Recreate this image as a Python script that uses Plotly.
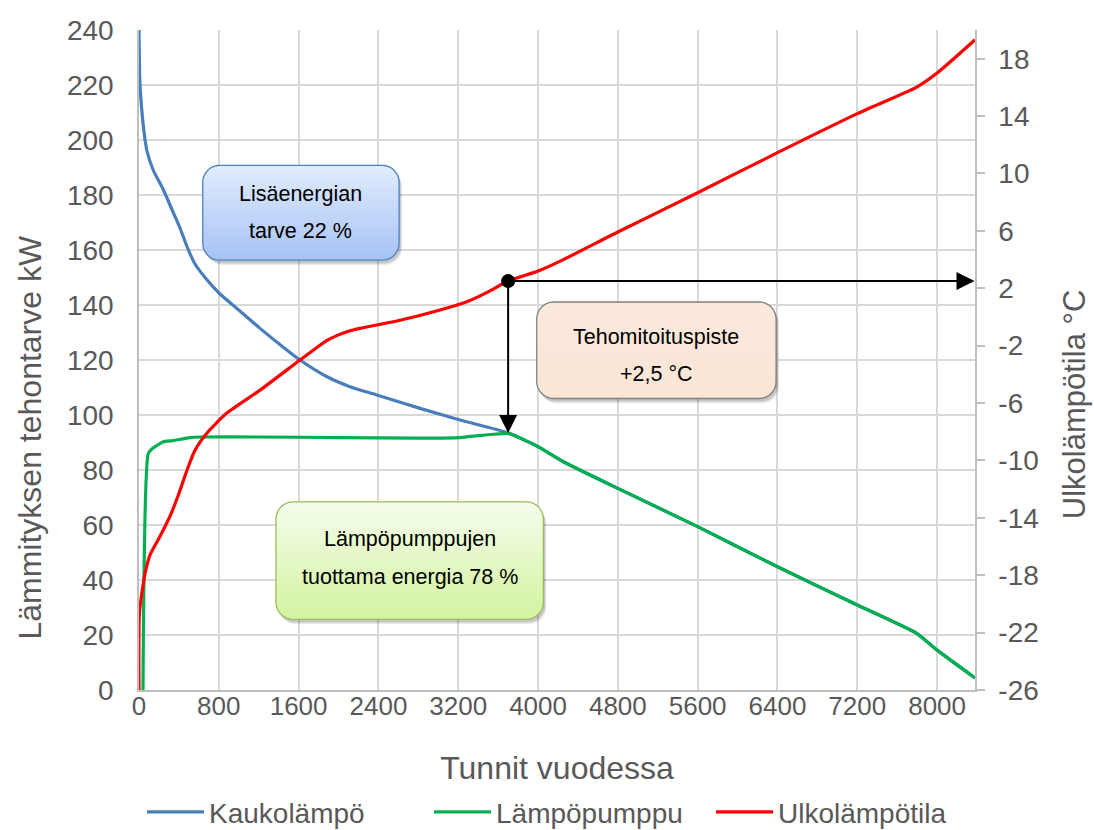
import math
import plotly.graph_objects as go

# --- Data -------------------------------------------------------------
# Hours of the year (duration curve) and corresponding values
hours_district = [0, 8, 25, 50, 80, 143, 243, 327, 411, 484, 560, 662, 812, 1000,
                  1213, 1400, 1614, 1880, 2115, 2383, 2817, 3218, 3700,
                  3887, 4000, 4254, 4800, 5600, 6400, 7200, 7795, 8000, 8380]
district_kw = [240, 222, 212, 203, 196, 189, 182, 175, 168, 161, 155, 150, 144.0, 138.2,
               131.5, 126, 120, 114, 110.3, 107.3, 102.4, 98.2, 93.5,
               90.5, 88.5, 83.0, 73.3, 59.4, 44.8, 30.9, 20.6, 14.5, 4.4]

hours_hp = [40, 93, 140, 240, 340, 510, 610, 1200, 2000, 2800, 3218, 3400, 3552, 3700,
            3887, 4000, 4254, 4800, 5600, 6400, 7200, 7795, 8000, 8380]
heatpump_kw = [0, 86, 88, 90.2, 90.7, 91.8, 92, 92, 91.8, 91.6, 91.8, 92.5, 93.0, 93.3,
               90.5, 88.5, 83.0, 73.3, 59.4, 44.8, 30.9, 20.6, 14.5, 4.4]

hours_temp = [0, 5, 60, 110, 210, 310, 390, 480, 560, 680, 880, 1213, 1614, 1750, 1881,
              2000, 2100, 2215, 2617, 3000, 3300, 3500, 3700, 4000, 4254, 4800, 5600,
              6400, 7200, 7795, 8000, 8380]
outdoor_temp = [-26, -20.6, -17.9, -16.6, -15.3, -13.9, -12.5, -10.7, -9.3, -8.1, -6.7,
                -5.1, -3.0, -2.3, -1.65, -1.25, -1.0, -0.8, -0.23, 0.45, 1.1, 1.75, 2.5,
                3.2, 4.0, 5.92, 8.66, 11.45, 14.17, 16.02, 17.0, 19.32]

# Balance point (dimensioning point)
balance_hours = 3700
balance_temp = 2.5
balance_kw = 93.5

series_names = ["Kaukolämpö", "Lämpöpumppu", "Ulkolämpötila"]
x_title = "Tunnit vuodessa"
y_title = "Lämmityksen tehontarve kW"
y2_title = "Ulkolämpötila °C"

# Right-axis tick values and labels (hyphen minus as in the source sheet)
temp_ticks = [-26, -22, -18, -14, -10, -6, -2, 2, 6, 10, 14, 18]
temp_tick_labels = ["-26", "-22", "-18", "-14", "-10", "-6", "-2", "2", "6", "10", "14", "18"]

# --- Axis setup -------------------------------------------------------
X_MIN, X_MAX = 0, 8380
Y_MIN, Y_MAX = 0, 240
T_MIN, T_MAX = -26, 20

W, H = 1094, 830
M_L, M_R, M_T, M_B = 139, 119, 30, 140
PW = W - M_L - M_R
PH = H - M_T - M_B

FONT = "Liberation Sans, Arial, sans-serif"
GREY = "#595959"
GRID = "#d9d9d9"
AXLINE = "#bfbfbf"

BLUE = "#4a7ebb"
GREEN = "#00b050"
RED = "#ff0000"


def temp_to_kw(t):
    return Y_MIN + (t - T_MIN) / (T_MAX - T_MIN) * (Y_MAX - Y_MIN)


def px_x(x):
    return (x - X_MIN) / (X_MAX - X_MIN) * PW


def px_y(y):
    return (y - Y_MIN) / (Y_MAX - Y_MIN) * PH


def data_x(px):
    return X_MIN + px / PW * (X_MAX - X_MIN)


def data_y(py):
    return Y_MIN + py / PH * (Y_MAX - Y_MIN)


def rounded_outline(x0, x1, y0, y1, r, n=10):
    """Outline of a rounded rectangle; inputs in data units, radius in px."""
    a0, a1, b0, b1 = px_x(x0), px_x(x1), px_y(y0), px_y(y1)
    pts = []
    corners = [(a1 - r, b1 - r, 0), (a0 + r, b1 - r, 90),
               (a0 + r, b0 + r, 180), (a1 - r, b0 + r, 270)]
    for cx, cy, start in corners:
        for k in range(n + 1):
            ang = math.radians(start + 90 * k / n)
            pts.append((cx + r * math.cos(ang), cy + r * math.sin(ang)))
    return pts


def path_from_px(pts):
    s = "M " + " L ".join(f"{data_x(a):.3f},{data_y(b):.4f}" for a, b in pts)
    return s + " Z"


def half_width(a0, a1, b0, b1, r, b):
    w = (a1 - a0) / 2
    if b > b1 - r:
        d = b - (b1 - r)
    elif b < b0 + r:
        d = (b0 + r) - b
    else:
        return w
    d = min(d, r)
    return w - r + math.sqrt(max(r * r - d * d, 0))


def mix(c1, c2, t):
    c1 = [int(c1[i:i + 2], 16) for i in (1, 3, 5)]
    c2 = [int(c2[i:i + 2], 16) for i in (1, 3, 5)]
    return "#" + "".join(f"{round(a + (b - a) * t):02x}" for a, b in zip(c1, c2))


def box_shapes(x0, x1, y0, y1, r, top_color, bottom_color, border, bands=30):
    shapes = []
    # soft shadow
    for off, op in [(5, 0.06), (4, 0.08), (3, 0.10)]:
        pts = rounded_outline(x0, x1, y0, y1, r)
        pts = [(a + off * 0.6, b - off) for a, b in pts]
        shapes.append(dict(type="path", xref="x", yref="y", layer="above",
                           path=path_from_px(pts), fillcolor="black", opacity=op,
                           line=dict(width=0)))
    a0, a1, b0, b1 = px_x(x0), px_x(x1), px_y(y0), px_y(y1)
    cx = (a0 + a1) / 2
    for i in range(bands):
        top = b1 - (b1 - b0) * i / bands
        bot = max(b1 - (b1 - b0) * (i + 1) / bands - 0.8, b0)
        steps = 6
        ys = [top + (bot - top) * k / steps for k in range(steps + 1)]
        right = [(cx + half_width(a0, a1, b0, b1, r, yy), yy) for yy in ys]
        left = [(cx - half_width(a0, a1, b0, b1, r, yy), yy) for yy in reversed(ys)]
        col = mix(top_color, bottom_color, (i + 0.5) / bands)
        shapes.append(dict(type="path", xref="x", yref="y", layer="above",
                           path=path_from_px(right + left), fillcolor=col,
                           line=dict(width=0)))
    shapes.append(dict(type="path", xref="x", yref="y", layer="above",
                       path=path_from_px(rounded_outline(x0, x1, y0, y1, r)),
                       fillcolor="rgba(0,0,0,0)", line=dict(color=border, width=1.3)))
    return shapes


fig = go.Figure()

fig.add_trace(go.Scatter(x=hours_district, y=district_kw, name=series_names[0],
                         mode="lines", legend="legend",
                         line=dict(color=BLUE, width=3.2, shape="spline", smoothing=0.6)))
fig.add_trace(go.Scatter(x=hours_hp, y=heatpump_kw, name=series_names[1],
                         mode="lines", legend="legend2",
                         line=dict(color=GREEN, width=3.2, shape="spline", smoothing=0.5)))
fig.add_trace(go.Scatter(x=hours_temp, y=outdoor_temp, name=series_names[2], yaxis="y2",
                         mode="lines", legend="legend3",
                         line=dict(color=RED, width=3.2, shape="spline", smoothing=0.6)))
# balance point marker
fig.add_trace(go.Scatter(x=[balance_hours], y=[balance_temp], yaxis="y2", mode="markers",
                         marker=dict(color="black", size=14), showlegend=False,
                         hoverinfo="skip"))

shapes = []
shapes += box_shapes(639, 2607, 156.3, 190.8, 17, "#e2ecfd", "#a6c3f5", "#4f81bd")
shapes += box_shapes(3987, 6386, 106, 141.1, 17, "#fce9dd", "#fbe6d6", "#7f7f7f")
shapes += box_shapes(1373, 4053, 25.7, 68.4, 17, "#f5fdec", "#d3f3a0", "#9bbb59")

annotations = []
# arrows from the balance point
annotations.append(dict(x=X_MAX - 5, y=temp_to_kw(balance_temp), xref="x", yref="y",
                        ax=balance_hours, ay=temp_to_kw(balance_temp), axref="x", ayref="y",
                        showarrow=True, arrowhead=2, arrowsize=1.8, arrowwidth=2,
                        arrowcolor="black", text=""))
annotations.append(dict(x=balance_hours, y=balance_kw, xref="x", yref="y",
                        ax=balance_hours, ay=temp_to_kw(balance_temp), axref="x", ayref="y",
                        showarrow=True, arrowhead=2, arrowsize=1.8, arrowwidth=2,
                        arrowcolor="black", text=""))

box_texts = [
    (1623, 180.2, "Lisäenergian"), (1623, 167.0, "tarve 22 %"),
    (5186, 128.5, "Tehomitoituspiste"), (5186, 115.0, "+2,5 °C"),
    (2713, 55.0, "Lämpöpumppujen"), (2713, 41.2, "tuottama energia 78 %"),
]
for bx, by, txt in box_texts:
    annotations.append(dict(x=bx, y=by, xref="x", yref="y", text=txt, showarrow=False,
                            font=dict(family=FONT, size=21.5, color="black")))

# vertical axis titles
annotations.append(dict(x=-0.130, y=0.383, xref="paper", yref="paper", text=y_title,
                        textangle=-90, showarrow=False, xanchor="center", yanchor="middle",
                        font=dict(family=FONT, size=32, color=GREY)))
annotations.append(dict(x=1.120, y=0.432, xref="paper", yref="paper", text=y2_title,
                        textangle=-90, showarrow=False, xanchor="center", yanchor="middle",
                        font=dict(family=FONT, size=31, color=GREY)))

legend_style = dict(orientation="h", xanchor="left", y=-0.185, yanchor="middle",
                    font=dict(family=FONT, size=28, color=GREY), itemwidth=57,
                    bgcolor="rgba(0,0,0,0)")

fig.update_layout(
    width=W, height=H,
    margin=dict(l=M_L, r=M_R, t=M_T, b=M_B, pad=0, autoexpand=False),
    paper_bgcolor="white", plot_bgcolor="white",
    font=dict(family=FONT, color=GREY),
    shapes=shapes,
    annotations=annotations,
    showlegend=True,
    legend=dict(x=0.0036, **legend_style),
    legend2=dict(x=0.3469, **legend_style),
    legend3=dict(x=0.6842, **legend_style),
    xaxis=dict(range=[X_MIN, X_MAX], tick0=0, dtick=800, showgrid=True,
               gridcolor=GRID, gridwidth=1.5, zeroline=False, showline=True,
               linecolor=AXLINE, linewidth=1.5, ticks="", automargin=False,
               ticklabelstandoff=-8,
               tickfont=dict(family=FONT, size=26, color=GREY),
               title=dict(text=x_title, font=dict(family=FONT, size=32, color=GREY),
                          standoff=37)),
    yaxis=dict(range=[Y_MIN, Y_MAX], tick0=0, dtick=20, showgrid=True,
               gridcolor=GRID, gridwidth=1.5, zeroline=False, showline=True,
               linecolor=AXLINE, linewidth=1.5, ticks="", automargin=False,
               ticklabelstandoff=18,
               tickfont=dict(family=FONT, size=28, color=GREY)),
    yaxis2=dict(range=[T_MIN, T_MAX], tickmode="array", tickvals=temp_ticks,
                ticktext=temp_tick_labels, overlaying="y", side="right",
                showgrid=False, zeroline=False, showline=True, linecolor=AXLINE,
                linewidth=1.5, ticks="outside", ticklen=8, tickcolor=AXLINE,
                tickwidth=1.5, automargin=False, ticklabelstandoff=8,
                tickfont=dict(family=FONT, size=28, color=GREY)),
)

fig.write_html("out.html")
